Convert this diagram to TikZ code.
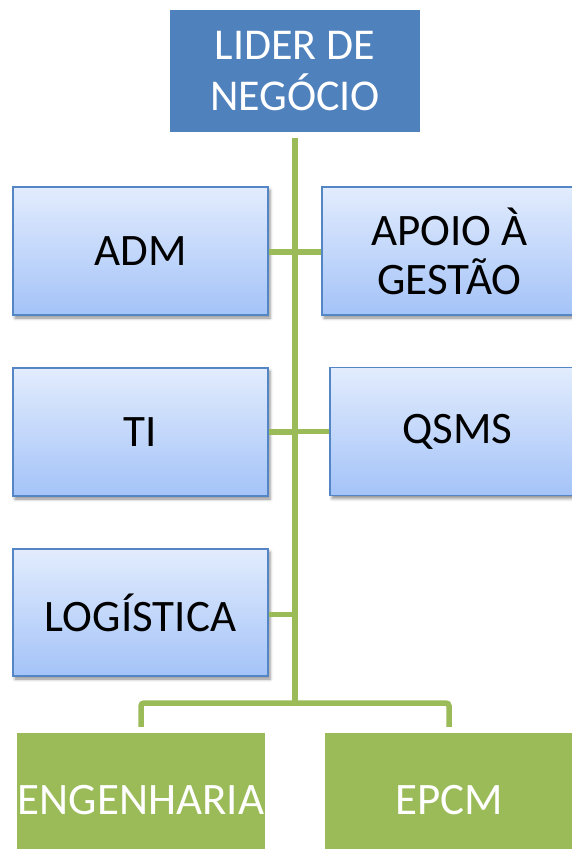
\documentclass[tikz,border=0pt]{standalone}
\usepackage{fontspec}
\setmainfont{Carlito}
\usetikzlibrary{shadows.blur}
\definecolor{hdblue}{RGB}{79,129,189}
\definecolor{lgreen}{RGB}{155,187,89}
\definecolor{boxtop}{RGB}{226,236,253}
\definecolor{boxbot}{RGB}{164,195,248}
\definecolor{boxline}{RGB}{84,133,196}
\tikzset{
  headbox/.style={rectangle, fill=hdblue, text=white, inner sep=0pt, align=center,
    minimum width=250pt, minimum height=122pt, font=\fontsize{44}{51}\selectfont},
  unitbox/.style={rectangle, top color=boxtop, bottom color=boxbot, draw=boxline,
    line width=1.2pt, inner sep=0pt, align=center, text=black,
    minimum width=255pt, minimum height=128pt, font=\fontsize{45}{49}\selectfont,
    blur shadow={shadow xshift=2pt, shadow yshift=-3pt, shadow blur radius=3pt, shadow opacity=45}},
  greenbox/.style={rectangle, fill=lgreen, text=white, inner sep=0pt,
    minimum width=248pt, minimum height=134pt, font=\fontsize{45}{54}\selectfont},
  conn/.style={draw=lgreen, line width=5.5pt, rounded corners=3pt}
}
\begin{document}
\begin{tikzpicture}[x=1pt,y=-1pt]
\useasboundingbox (0,0) rectangle (572,849);
\node[headbox] (top) at (295,71) {LIDER DE\\NEGÓCIO};
\node[unitbox] (adm) at (140.5,251) {ADM};
\node[unitbox] (apoio) at (449.5,251) {APOIO À\\GESTÃO};
\node[unitbox] (ti) at (140.5,432) {TI};
\node[unitbox] (qsms) at (457.5,431.5) {QSMS};
\node[unitbox, minimum height=127pt] (log) at (140.5,612.5) {LOGÍSTICA};
\node[greenbox] (eng) at (141,800) {ENGENHARIA};
\node[greenbox] (epcm) at (449,800) {EPCM};
\coordinate (bus) at (295,703);
\draw[conn] ([yshift=-6pt]top.south) -- (bus);
\draw[conn] ([yshift=-1pt]adm.east) -- ([yshift=-1pt]adm.east -| bus);
\draw[conn] ([yshift=-1pt]apoio.west) -- ([yshift=-1pt]apoio.west -| bus);
\draw[conn] (ti.east) -- (ti.east -| bus);
\draw[conn] (qsms.west) -- (qsms.west -| bus);
\draw[conn] ([yshift=-2pt]log.east) -- ([yshift=-2pt]log.east -| bus);
\draw[conn] ([yshift=6pt]eng.north) |- (bus) -| ([yshift=6pt]epcm.north);
\end{tikzpicture}
\end{document}
